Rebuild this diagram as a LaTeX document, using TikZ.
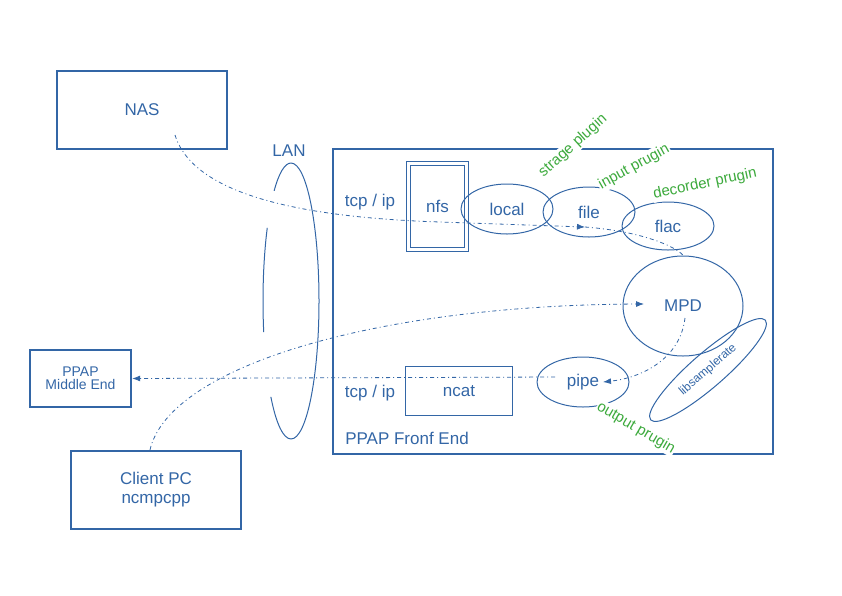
\documentclass[tikz,border=0pt]{standalone}
\usepackage{fontspec}
\setmainfont{Liberation Sans}
\usetikzlibrary{shapes.geometric, positioning, calc}
\usetikzlibrary{arrows.meta}
\definecolor{pblue}{HTML}{3366A6}
\definecolor{pgreen}{HTML}{3DAA3D}
\tikzset{>={Latex[width=6pt,length=8pt]}}

\begin{document}
\begin{tikzpicture}[x=1pt, y=-1pt, every node/.style={text=pblue, font=\fontsize{17}{19}\selectfont},
    box/.style={draw=pblue, line width=2.4pt, rectangle, align=center},
    thinbox/.style={draw=pblue, line width=1pt, rectangle},
    oval/.style={draw=pblue, line width=1pt, ellipse, inner sep=0pt},
    plugin/.style={text=pgreen, fill=white, inner sep=1pt, font=\fontsize{15}{17}\selectfont},
    flow/.style={draw=pblue, line width=0.8pt, dash pattern=on 4pt off 3pt on 1pt off 3pt}]
    \useasboundingbox (0,0) rectangle (842,595);

    %Outer boxes
    \node[box, minimum width=170pt, minimum height=78pt](nas) at (142,110){NAS};
    \node[box, minimum width=170pt, minimum height=78pt](client) at (156,490){Client PC\\[0pt]ncmpcpp};
    \node[box, minimum width=101pt, minimum height=57pt, font=\fontsize{14}{15}\selectfont](middle) at (80.5,378.5){PPAP\\[-2pt]Middle End};
    \node[box, minimum width=440pt, minimum height=305pt](front) at (553,301.5){};

    %LAN
    \node(lan) at (289,151){LAN};
    \draw[pblue, line width=1pt] (291,163) arc[start angle=90, end angle=-90, x radius=28, y radius=-138];
    \draw[pblue, line width=1pt] (291,163) arc[start angle=90, end angle=127, x radius=28, y radius=-138];
    \draw[pblue, line width=1pt] (291,301) ++(148:28 and -138) arc[start angle=148, end angle=193, x radius=28, y radius=-138];
    \draw[pblue, line width=1pt] (291,301) ++(224:28 and -138) arc[start angle=224, end angle=270, x radius=28, y radius=-138];

    %Front end parts
    \node(tcp1) at (370,202){tcp / ip};
    \node(tcp2) at (370,393){tcp / ip};
    \node(frontlabel) at (407,438){PPAP Fronf End};
    \node[thinbox, double, double distance=3pt, minimum width=58pt, minimum height=86pt](nfs) at (437.5,206){nfs};
    \node[thinbox, minimum width=107pt, minimum height=49pt](ncat) at (458.5,390.5){};
    \node at (459,391){ncat};
    \node[oval, minimum width=92pt, minimum height=50pt](local) at (507,209){local};
    \node[oval, minimum width=92pt, minimum height=50pt](file) at (589,212){file};
    \node[oval, minimum width=92pt, minimum height=48pt](flac) at (668,226){flac};
    \node[oval, minimum width=120pt, minimum height=100pt](mpd) at (683,306){MPD};
    \node[oval, minimum width=152pt, minimum height=34pt, rotate=41, font=\fontsize{12}{13}\selectfont](libsr) at (708,370){libsamplerate};

    \node[oval, minimum width=92pt, minimum height=50pt](pipe) at (583,382){pipe};

    %Plugin labels
    \node[plugin, rotate=42](strage) at (573,146){strage plugin};
    \node[plugin, rotate=29](input) at (634,167){input prugin};
    \node[plugin, rotate=12](decorder) at (705,184){decorder prugin};
    \node[plugin, rotate=-30](output) at (636,428){output prugin};

    %Lines
    \coordinate (nasout) at ($(nas)+(33,25)$);
    \coordinate (fileat) at ($(file)+(-4,15)$);
    \draw[flow, ->] (nasout) .. controls (195,200) and (320,218) .. (440,222) -- (fileat);
    \draw[flow] (fileat) .. controls (650,232) and (680,250) .. (mpd.north);
    \draw[flow, ->] ($(client.north)+(-6,0)$) .. controls (170,365) and (380,305) .. ($(mpd)+(-39,-2)$);
    \draw[flow, ->] ($(mpd)+(2,12)$) .. controls (680,360) and (640,378) .. ($(pipe)+(20,0)$);
    \draw[flow, ->] ($(pipe)+(-28,-5)$) -- (middle.east);

\end{tikzpicture}
\end{document}
